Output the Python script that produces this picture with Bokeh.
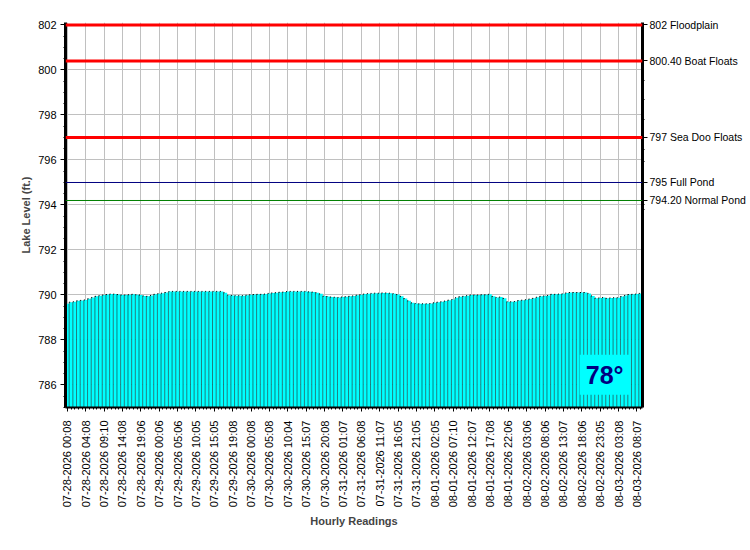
import math
from bokeh.plotting import figure
from bokeh.models import (Range1d, LinearAxis, FixedTicker, SingleIntervalTicker,
                          Span, Label, ColumnDataSource)
from bokeh.embed import file_html
from bokeh.resources import INLINE

# ---------------- data ----------------
tick_labels = [
    "07-28-2026 00:08", "07-28-2026 04:08", "07-28-2026 09:10", "07-28-2026 14:08", "07-28-2026 19:06",
    "07-29-2026 00:06", "07-29-2026 05:06", "07-29-2026 10:05", "07-29-2026 15:05", "07-29-2026 19:08",
    "07-30-2026 00:08", "07-30-2026 05:08", "07-30-2026 10:04", "07-30-2026 15:07", "07-30-2026 20:08",
    "07-31-2026 01:07", "07-31-2026 06:08", "07-31-2026 11:07", "07-31-2026 16:05", "07-31-2026 21:05",
    "08-01-2026 02:05", "08-01-2026 07:10", "08-01-2026 12:07", "08-01-2026 17:08", "08-01-2026 22:06",
    "08-02-2026 03:06", "08-02-2026 08:06", "08-02-2026 13:07", "08-02-2026 18:06", "08-02-2026 23:05",
    "08-03-2026 03:08", "08-03-2026 08:07",
]
label_every = 5  # one label every 5 hourly readings

lake_levels = [
    789.61, 789.68, 789.70, 789.74, 789.76, 789.78, 789.83, 789.89, 789.94, 789.97,
    790.00, 790.02, 790.04, 790.04, 790.02, 790.00, 790.00, 790.01, 790.03, 790.01,
    790.00, 789.96, 789.94, 789.98, 790.03, 790.06, 790.08, 790.11, 790.15, 790.16,
    790.16, 790.16, 790.16, 790.16, 790.16, 790.16, 790.16, 790.16, 790.16, 790.16,
    790.16, 790.16, 790.16, 790.10, 789.99, 789.98, 789.97, 789.97, 789.97, 789.99,
    790.01, 790.02, 790.03, 790.03, 790.04, 790.07, 790.09, 790.10, 790.12, 790.13,
    790.15, 790.16, 790.16, 790.16, 790.16, 790.16, 790.14, 790.13, 790.10, 790.05,
    789.95, 789.93, 789.91, 789.90, 789.89, 789.91, 789.92, 789.94, 789.96, 789.99,
    790.01, 790.04, 790.06, 790.07, 790.08, 790.08, 790.09, 790.09, 790.08, 790.06,
    790.02, 789.94, 789.84, 789.74, 789.65, 789.62, 789.61, 789.61, 789.61, 789.62,
    789.65, 789.68, 789.70, 789.73, 789.77, 789.80, 789.88, 789.92, 789.94, 789.97,
    790.00, 790.00, 790.00, 790.01, 790.01, 790.03, 789.94, 789.89, 789.91, 789.85,
    789.70, 789.70, 789.71, 789.75, 789.77, 789.79, 789.82, 789.85, 789.90, 789.94,
    789.96, 789.98, 790.03, 790.03, 790.04, 790.05, 790.09, 790.11, 790.11, 790.11,
    790.11, 790.11, 790.07, 789.96, 789.86, 789.87, 789.89, 789.85, 789.87, 789.88,
    789.88, 789.93, 789.98, 790.02, 790.03, 790.04, 790.07,
]

level_values = [802, 800.4, 797, 795, 794.2]
level_names = ["802 Floodplain", "800.40 Boat Floats", "797 Sea Doo Floats",
               "795 Full Pond", "794.20 Normal Pond"]
level_colors = ["#FF0000", "#FF0000", "#FF0000", "#000080", "#008000"]
level_widths = [3, 3, 3, 1, 1]
right_minor_ticks = [799.55, 798.7, 797.8, 796.45, 795.95, 794.0, 793.8]

water_temp = "78°"

y_min, y_max = 785.0, 802.11

# ---------------- plot ----------------
FONT = "Liberation Sans"
n = len(lake_levels)
xs = list(range(n))
edges = [x - 0.5 for x in xs]

p = figure(width=750, height=550, output_backend="svg", toolbar_location=None,
           x_range=Range1d(-0.5, n - 0.5), y_range=Range1d(y_min, y_max),
           min_border_left=65, min_border_right=108, min_border_top=22,
           min_border_bottom=143)
p.outline_line_color = None
p.background_fill_color = "white"
p.border_fill_color = "white"

src = ColumnDataSource(dict(x=xs, edge=edges, top=lake_levels))
p.vbar(x="x", top="top", bottom=y_min, width=1, source=src,
       fill_color="#00FFFF", line_color=None)
# dotted bar separators (stippled look)
p.segment(x0="edge", y0=y_min, x1="edge", y1="top", source=src,
          line_color="black", line_width=1, line_dash="1 1")
# dotted bar tops
p.segment(x0="edge", y0="top", x1="x", y1="top", source=src,
          line_color="black", line_width=1, line_dash="1 1")

for val, col, w in zip(level_values, level_colors, level_widths):
    p.add_layout(Span(location=val, dimension="width", line_color=col, line_width=w))

# bottom axis
major_x = [i * label_every for i in range(len(tick_labels))]
xa = p.xaxis[0]
xa.ticker = FixedTicker(ticks=major_x, minor_ticks=xs)
xa.major_label_overrides = {major_x[i]: tick_labels[i] for i in range(len(tick_labels))}
xa.major_label_orientation = math.pi / 2
xa.major_label_text_font = FONT
xa.major_label_text_font_size = "11px"
xa.major_label_text_color = "black"
xa.major_label_standoff = 9
xa.major_tick_in = 0
xa.major_tick_out = 4
xa.minor_tick_in = 0
xa.minor_tick_out = 2
xa.axis_line_width = 2
xa.axis_label = "Hourly Readings"
xa.axis_label_text_font = FONT
xa.axis_label_text_font_size = "11px"
xa.axis_label_text_font_style = "bold"
xa.axis_label_standoff = 5

# left axis
ya = p.yaxis[0]
ya.ticker = SingleIntervalTicker(interval=2, num_minor_ticks=4)
ya.major_label_text_font = FONT
ya.major_label_text_font_size = "11px"
ya.major_label_text_color = "black"
ya.major_label_standoff = 4
ya.major_tick_in = 0
ya.major_tick_out = 5
ya.minor_tick_in = 0
ya.minor_tick_out = 2
ya.axis_line_width = 3
ya.axis_label = "Lake Level (ft.)"
ya.axis_label_text_font = FONT
ya.axis_label_text_font_size = "11px"
ya.axis_label_text_font_style = "bold"
ya.axis_label_standoff = 3

# right axis with reference levels
ra = LinearAxis(ticker=FixedTicker(ticks=level_values, minor_ticks=right_minor_ticks),
                major_label_overrides=dict(zip(level_values, level_names)))
ra.major_label_text_font = FONT
ra.major_label_text_font_size = "10.5px"
ra.major_label_text_color = "black"
ra.major_label_standoff = 2
ra.major_tick_in = 0
ra.major_tick_out = 5
ra.minor_tick_in = 0
ra.minor_tick_out = 2
ra.axis_line_width = 3
p.add_layout(ra, "right")

p.xgrid.grid_line_color = "#C0C0C0"
p.ygrid.grid_line_color = "#C0C0C0"

p.add_layout(Label(x=n - 10.8, y=y_min + 1.45, text=water_temp,
                   text_align="center", text_baseline="middle",
                   text_font=FONT, text_font_size="25px", text_font_style="bold",
                   text_color="#000080", background_fill_color="#00FFFF",
                   padding=6))

open("out.html", "w").write(file_html(p, INLINE))
